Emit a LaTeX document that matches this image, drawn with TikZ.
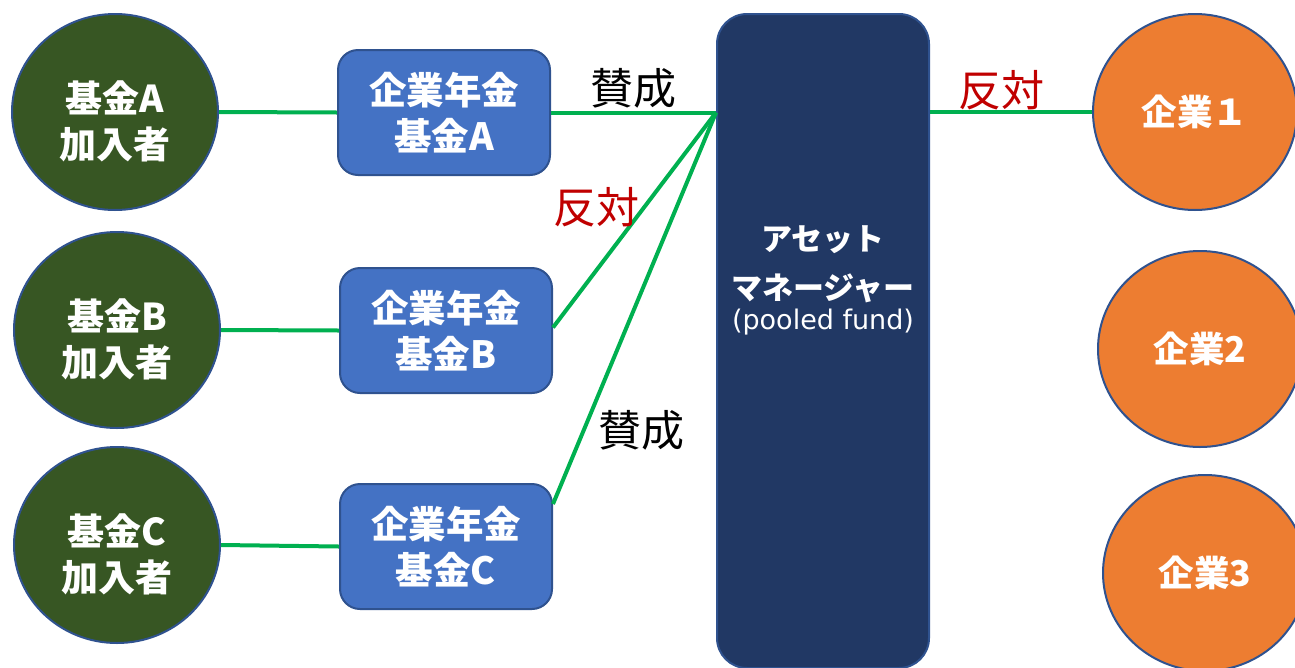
\documentclass[tikz,border=0pt]{standalone}
\usepackage{fontspec}
\setmainfont{Noto Sans CJK JP}
\newfontfamily\latinfont{DejaVu Sans}
\usetikzlibrary{shapes.geometric,calc}
\definecolor{memb}{HTML}{375623}
\definecolor{edgeblue}{HTML}{2F528F}
\definecolor{fundblue}{HTML}{4472C4}
\definecolor{navy}{HTML}{213864}
\definecolor{corp}{HTML}{ED7D31}
\definecolor{linkgreen}{HTML}{00B050}
\definecolor{nay}{HTML}{C00000}
\newcommand{\lowerstrut}{\rule{0pt}{51pt}}
\begin{document}
\begin{tikzpicture}[x=1pt,y=-1pt,
  member/.style={ellipse, draw=edgeblue, line width=2pt, fill=memb, text=white,
    minimum width=206pt, minimum height=196pt, inner sep=0pt, align=center,
    font=\fontsize{37}{46}\selectfont\bfseries},
  fund/.style={rectangle, rounded corners=20pt, draw=edgeblue, line width=2pt,
    fill=fundblue, text=white, minimum width=212pt, minimum height=125pt,
    inner sep=0pt, align=center, font=\fontsize{37.5}{46}\selectfont\bfseries},
  manager/.style={rectangle, rounded corners=30pt, draw=edgeblue, line width=2pt,
    fill=navy, minimum width=212pt, minimum height=654pt, inner sep=0pt},
  corpnode/.style={ellipse, draw=edgeblue, line width=2pt, fill=corp, text=white,
    minimum width=204pt, minimum height=196pt, inner sep=0pt,
    font=\fontsize{35.5}{40}\selectfont\bfseries},
  link/.style={draw=linkgreen, line width=4pt},
  yes/.style={text=black, font=\fontsize{43}{46}\selectfont, inner sep=0pt},
  no/.style={text=nay, font=\fontsize{43}{46}\selectfont, inner sep=0pt}
]
\useasboundingbox (0,0) rectangle (1295,667);

% members
\node[member] (mA) at (115,112) {\lowerstrut 基金A\\加入者};
\node[member] (mB) at (117,330) {\lowerstrut 基金B\\加入者};
\node[member] (mC) at (117,545) {\lowerstrut 基金C\\加入者};

% funds
\node[fund] (fA) at (444,112.5) {企業年金\\基金A};
\node[fund] (fB) at (446,330.5) {企業年金\\基金B};
\node[fund] (fC) at (446,546.5) {企業年金\\基金C};

% asset manager
\node[manager] (am) at (823,341) {};
\node[text=white, align=center, inner sep=0pt, anchor=north,
      font=\fontsize{31}{49}\selectfont\bfseries] (amtext) at (823,225)
  {アセット\\マネージャー\\[-19pt]\latinfont\fontsize{27}{49}\selectfont\mdseries (pooled fund)};

% companies
\node[corpnode] (c1) at (1195,112) {企業１};
\node[corpnode] (c2) at (1200,349) {企業2};
\node[corpnode] (c3) at (1205,573) {企業3};

% connectors
\coordinate (hub) at (am.north west |- fA.east);
\coordinate (fCout) at ([yshift=-21pt]fC.north east);
\draw[link] (mA.east) -- (fA.west);
\draw[link] (mB.east) -- (fB.west);
\draw[link] (mC.east) -- (fC.west);
\draw[link] (fA.east) -- (hub);
\draw[link] ([yshift=3pt]fB.east) -- (hub);
\draw[link] (fCout) -- (hub);
\draw[link] (am.north east |- c1.west) -- (c1.west);

% vote labels
\node[yes] (vA) at (633,88) {賛成};
\node[no] (vB) at (596,207) {反対};
\node[yes] (vC) at (641,430) {賛成};
\node[no] (vM) at (1001,90) {反対};
\end{tikzpicture}
\end{document}
